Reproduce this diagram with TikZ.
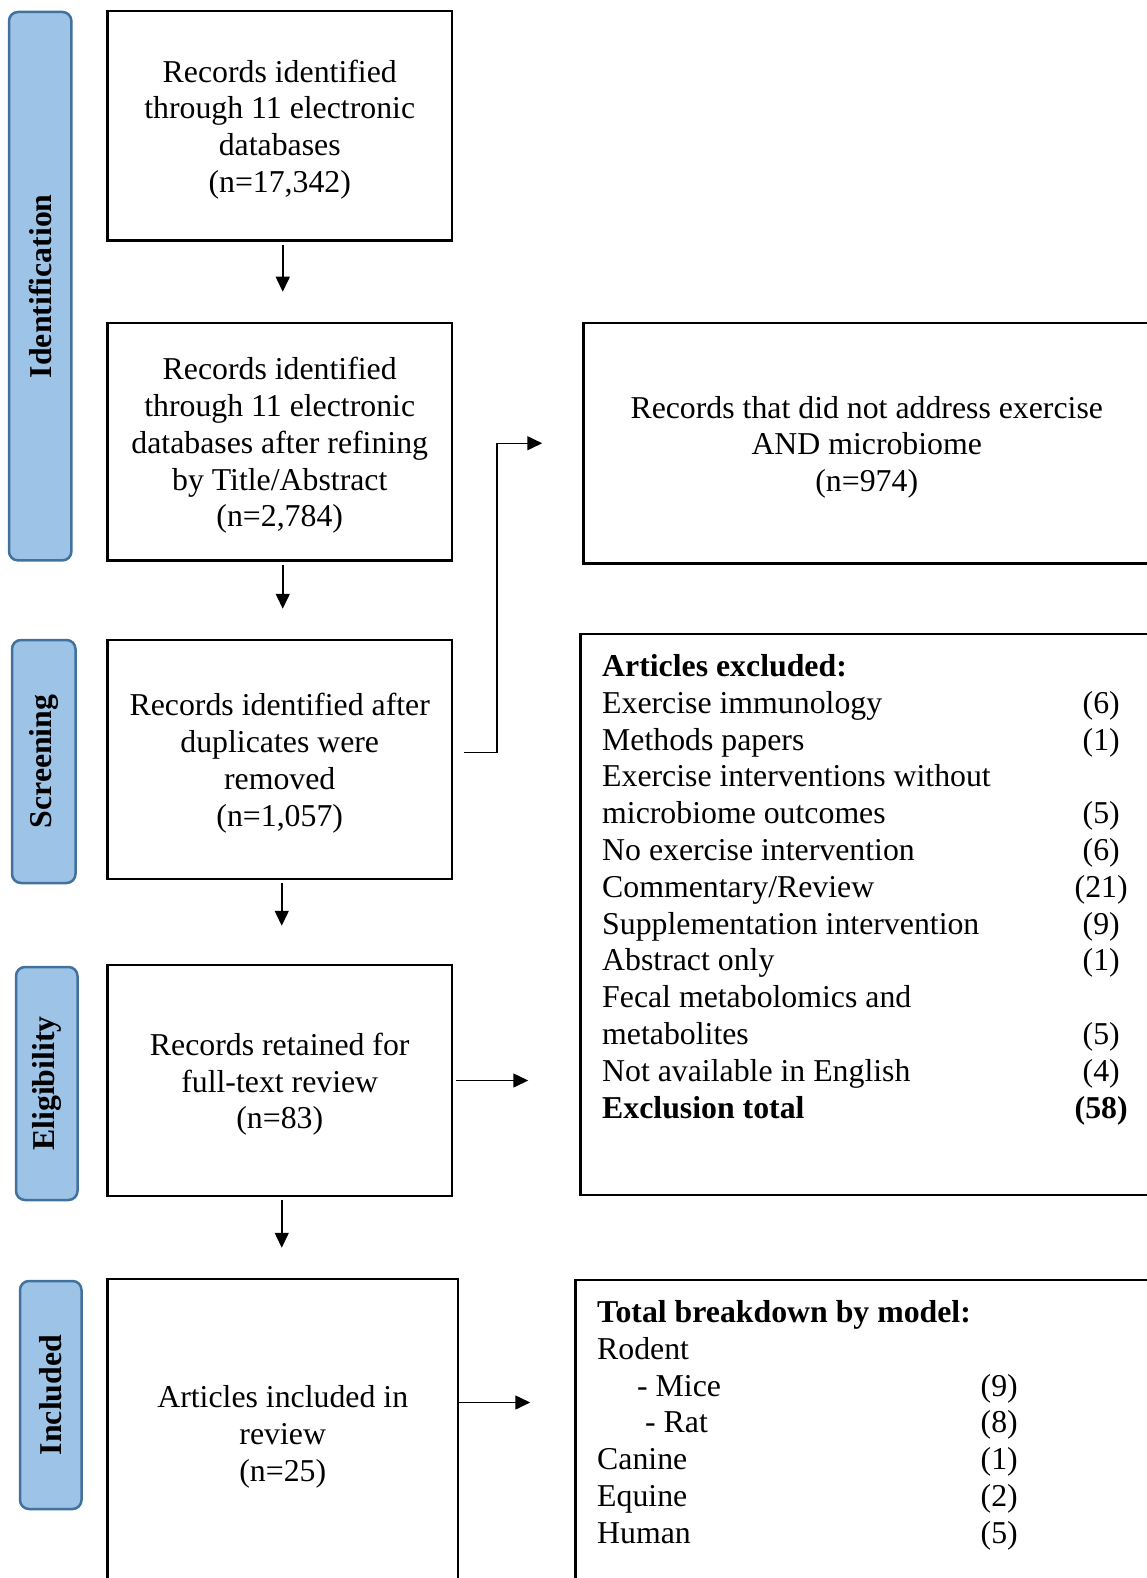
\documentclass[tikz,border=0pt]{standalone}
\usepackage{fontspec}
\setmainfont{Liberation Serif}
\usepackage{array}
\usetikzlibrary{arrows.meta}
\definecolor{barfill}{RGB}{157,195,230}
\definecolor{barline}{RGB}{65,113,156}
\newcommand{\topgap}{\rule{0pt}{30pt}}

\begin{document}
\begin{tikzpicture}[x=1pt,y=-1pt,>={Triangle[length=15pt,width=14pt]},
  every node/.style={font=\fontsize{31.8}{36.8}\selectfont},
  box/.style={draw,line width=2.5pt,align=center,inner sep=0pt},
  bar/.style={draw=barline,fill=barfill,line width=2.5pt,rounded corners=9pt,rotate=90,inner sep=0pt,
    font=\fontsize{31.8}{36.8}\selectfont\bfseries},
  link/.style={->,line width=1.5pt}]
  \clip (0,0) rectangle (1147,1578);
  \node[bar,minimum width=548.4,minimum height=62.4] (Id) at (40.2,286.2) {Identification};
  \node[bar,minimum width=243,minimum height=63.5] (Sc) at (43.75,761.5) {Screening};
  \node[bar,minimum width=233,minimum height=61.5] (El) at (46.75,1083.5) {Eligibility};
  \node[bar,minimum width=228,minimum height=61.5] (In) at (50.75,1395) {Included};

  \node[box,minimum width=344.1,minimum height=229.5] (B1) at (279.75,125.75)
    {\topgap Records identified\\through 11 electronic\\databases\\(n=17,342)};
  \node[box,minimum width=344.1,minimum height=237.4] (B2) at (279.75,441.7)
    {\topgap Records identified\\through 11 electronic\\databases after refining\\by Title/Abstract\\(n=2,784)};
  \node[box,minimum width=344.1,minimum height=239] (B3) at (279.75,759.5)
    {\topgap Records identified after\\duplicates were\\removed\\(n=1,057)};
  \node[box,minimum width=344.1,minimum height=231] (B4) at (279.75,1080.5)
    {\topgap Records retained for\\full-text review\\(n=83)};
  \node[box,minimum width=350.1,minimum height=308] (B5) at (282.75,1433)
    {\topgap Articles included in\\review\\(n=25)};

  \node[box,minimum width=566.5,minimum height=240.5] (R1) at (866.75,443.25)
    {\topgap Records that did not address exercise\\AND microbiome\\(n=974)};
  \node[box,minimum width=579.5,minimum height=561] (R2) at (870.25,914.5) {};
  \node[box,minimum width=584.5,minimum height=320] (R3) at (867.75,1440) {};

  \node[anchor=base west,inner sep=0pt] (T2) at (602,676.5)
    {\begin{tabular}[t]{@{}p{469pt}@{}>{\centering\arraybackslash}p{60pt}@{}}
      \textbf{Articles excluded:} & \\
      Exercise immunology & (6)\\
      Methods papers & (1)\\
      Exercise interventions without & \\
      microbiome outcomes & (5)\\
      No exercise intervention & (6)\\
      Commentary/Review & (21)\\
      Supplementation intervention & (9)\\
      Abstract only & (1)\\
      Fecal metabolomics and & \\
      metabolites & (5)\\
      Not available in English & (4)\\
      \textbf{Exclusion total} & \textbf{(58)}
    \end{tabular}};
  \node[anchor=base west,inner sep=0pt] (T3) at (597,1322.5)
    {\begin{tabular}[t]{@{}p{372pt}@{}>{\centering\arraybackslash}p{60pt}@{}}
      \multicolumn{2}{@{}l@{}}{\textbf{Total breakdown by model:}}\\
      Rodent & \\
      \hspace*{40pt}- Mice & (9)\\
      \hspace*{48pt}- Rat & (8)\\
      Canine & (1)\\
      Equine & (2)\\
      Human & (5)
    \end{tabular}};

  \draw[link,shorten <=3pt,shorten >=30pt] ([xshift=3pt]B1.south) -- ([xshift=3pt]B2.north);
  \draw[link,shorten <=3pt,shorten >=30pt] ([xshift=3pt]B2.south) -- ([xshift=3pt]B3.north);
  \draw[link,shorten <=3pt,shorten >=38pt] ([xshift=2pt]B3.south) -- ([xshift=2pt]B4.north);
  \draw[link,shorten <=3pt,shorten >=30pt] ([xshift=2pt]B4.south) -- ([xshift=2pt]B4.south |- B5.north);
  \draw[link,shorten <=11pt,shorten >=40pt] ([yshift=7pt]B3.east) -- ++(44,0) |- (R1.west);
  \draw[link,shorten <=3pt,shorten >=51pt] (B4.east) -- (B4.east -| R2.west);
  \draw[link,shorten >=44pt] ([yshift=30.5pt]B5.east) -- ([yshift=30.5pt]B5.east -| R3.west);
\end{tikzpicture}
\end{document}
